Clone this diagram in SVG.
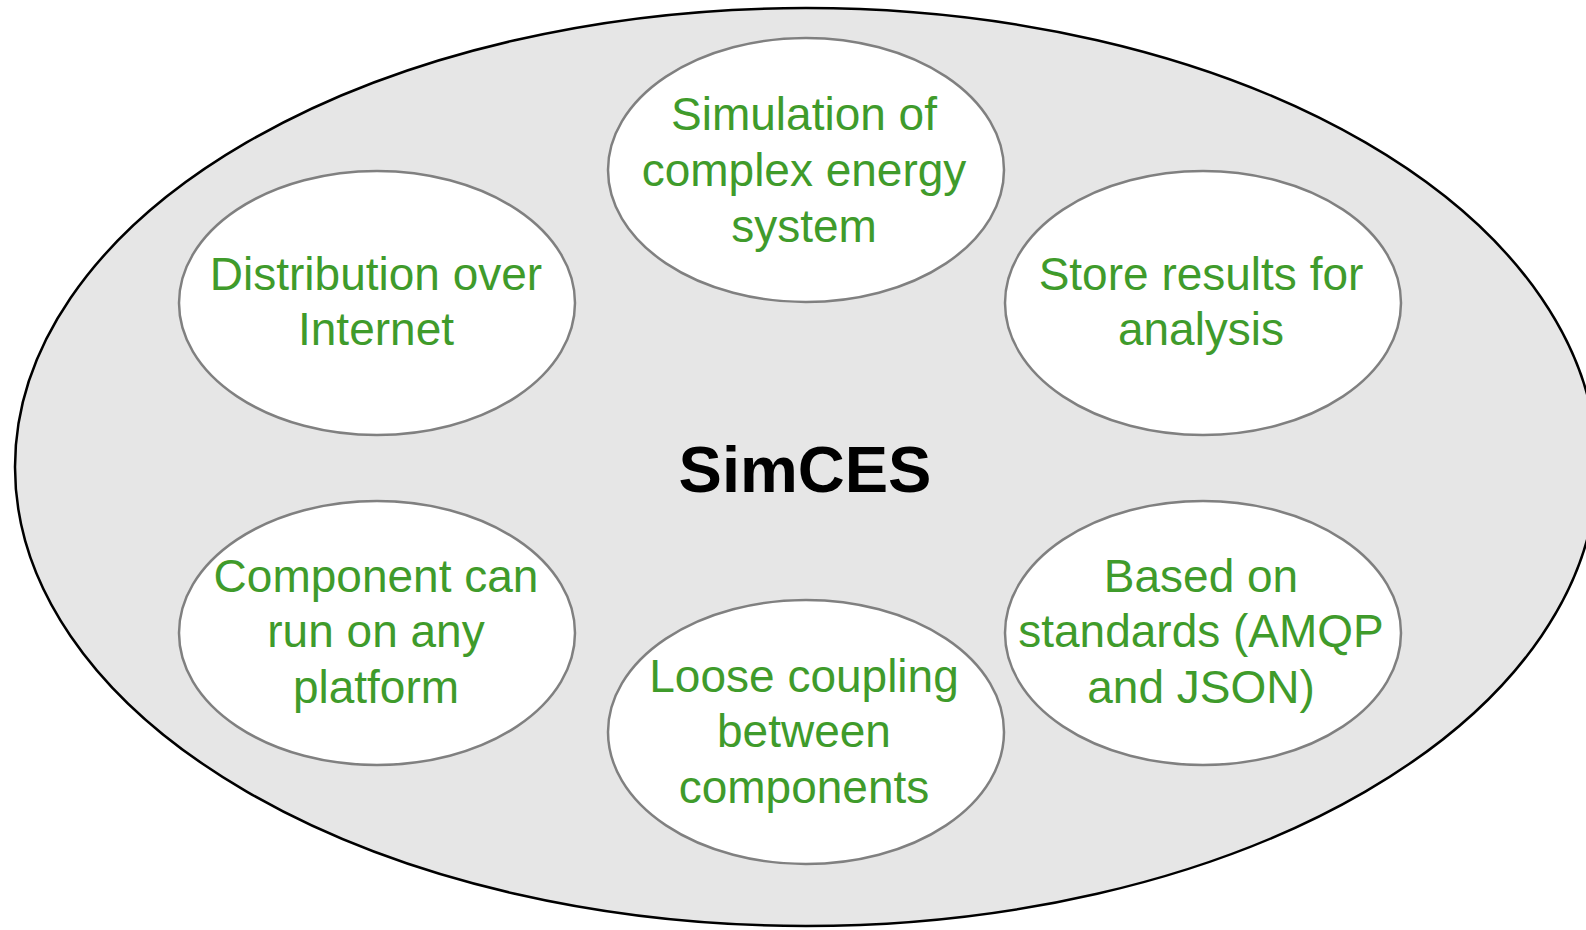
<svg xmlns="http://www.w3.org/2000/svg" width="1586" height="930" viewBox="0 0 1586 930">
<style>
.outer{fill:#e6e6e6;stroke:#000;stroke-width:2.5}
.node{fill:#fff;stroke:#808080;stroke-width:2.5}
.lbl{font-family:"Liberation Sans",Arial,sans-serif;font-size:46px;fill:#3f9b2b;text-anchor:middle}
.title{font-family:"Liberation Sans",Arial,sans-serif;font-size:65px;font-weight:bold;fill:#000;text-anchor:middle}
</style>
<rect width="1586" height="930" fill="#fff"/>
<g id="simces">
<ellipse class="outer" cx="806" cy="467" rx="791" ry="459"/>
<text class="title" x="805" y="492">SimCES</text>
</g>
<g id="connectors"></g>
<g id="n-simulation">
<ellipse class="node" cx="806" cy="170" rx="198" ry="132"/>
<text class="lbl" x="804" y="130">Simulation of</text>
<text class="lbl" x="804" y="186">complex energy</text>
<text class="lbl" x="804" y="242">system</text>
</g>
<g id="n-distribution">
<ellipse class="node" cx="377" cy="303" rx="198" ry="132"/>
<text class="lbl" x="376" y="290">Distribution over</text>
<text class="lbl" x="376" y="345">Internet</text>
</g>
<g id="n-store">
<ellipse class="node" cx="1203" cy="303" rx="198" ry="132"/>
<text class="lbl" x="1201" y="290">Store results for</text>
<text class="lbl" x="1201" y="345">analysis</text>
</g>
<g id="n-component">
<ellipse class="node" cx="377" cy="633" rx="198" ry="132"/>
<text class="lbl" x="376" y="592">Component can</text>
<text class="lbl" x="376" y="647">run on any</text>
<text class="lbl" x="376" y="703">platform</text>
</g>
<g id="n-standards">
<ellipse class="node" cx="1203" cy="633" rx="198" ry="132"/>
<text class="lbl" x="1201" y="592">Based on</text>
<text class="lbl" x="1201" y="647">standards (AMQP</text>
<text class="lbl" x="1201" y="703">and JSON)</text>
</g>
<g id="n-loose">
<ellipse class="node" cx="806" cy="732" rx="198" ry="132"/>
<text class="lbl" x="804" y="692">Loose coupling</text>
<text class="lbl" x="804" y="747">between</text>
<text class="lbl" x="804" y="803">components</text>
</g>
</svg>
